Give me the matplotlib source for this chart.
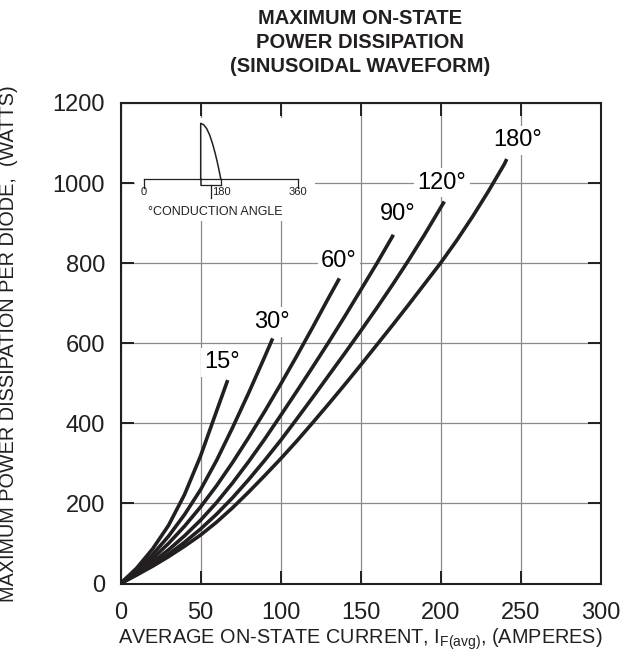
import matplotlib
matplotlib.use("Agg")
import matplotlib.pyplot as plt

plt.rcParams['font.family'] = ['Liberation Sans', 'DejaVu Sans']
plt.rcParams['mathtext.fontset'] = 'custom'
plt.rcParams['mathtext.rm'] = 'Liberation Sans'
plt.rcParams['mathtext.it'] = 'Liberation Sans'

# ---- data ----
angles = ["15°", "30°", "60°", "90°", "120°", "180°"]
i_15 = [0, 10, 20, 30, 40, 50, 60, 67]
p_15 = [0, 38, 86, 145, 222, 318, 430, 508]
i_30 = [0, 10, 20, 30, 40, 50, 60, 70, 80, 90, 95.1]
p_30 = [0, 33, 72, 118, 172, 234, 307, 389, 475, 565, 612]
i_60 = [0, 10, 20, 30, 40, 50, 60, 70, 80, 90, 100, 110, 120, 130, 136.8]
p_60 = [0, 29, 62, 100, 143, 191, 244, 302, 364, 429, 497, 567, 639, 713, 762]
i_90 = [0, 10, 20, 30, 40, 50, 60, 70, 80, 90, 100, 110, 120, 130, 140, 150,
        160, 170, 170.5]
p_90 = [0, 25, 53, 84, 119, 158, 202, 251, 304, 360, 419, 479, 540, 602, 666,
        732, 798, 867, 871]
i_120 = [0, 10, 20, 30, 40, 50, 60, 70, 80, 90, 100, 110, 120, 130, 140, 150,
         160, 170, 180, 190, 200, 202.4]
p_120 = [0, 22, 46, 73, 103, 136, 173, 214, 259, 307, 357, 410, 464, 519, 574,
         630, 687, 746, 807, 871, 938, 954]
i_180 = [0, 10, 20, 30, 40, 50, 60, 70, 80, 90, 100, 110, 120, 130, 140, 150,
         160, 170, 180, 190, 200, 210, 220, 230, 240, 241.4]
p_180 = [0, 21, 43, 67, 93, 121, 153, 189, 228, 269, 311, 355, 401, 448, 496,
         545, 595, 645, 696, 748, 800, 856, 916, 980, 1048, 1060]
label_i = [63.4, 94.8, 136.6, 173, 200.7, 248.5]
label_p = [553, 653, 805, 922, 1001, 1107]

x_ticks = [0, 50, 100, 150, 200, 250, 300]
y_ticks = [0, 200, 400, 600, 800, 1000, 1200]

# inset (conduction angle sketch), x in degrees
inset_ticks = [0, 180, 360]
wave_deg = [132.8, 132.8, 140, 147, 154, 161, 167, 172, 176, 180]
wave_h = [0, 56, 54.5, 50.5, 44, 35, 25.5, 16.5, 8.5, 0]

series = [(i_15, p_15), (i_30, p_30), (i_60, p_60), (i_90, p_90),
          (i_120, p_120), (i_180, p_180)]

W, H = 623, 663
fig = plt.figure(figsize=(W / 100, H / 100), dpi=100)
ax = fig.add_axes([120.5 / W, 1 - 583.5 / H, 480 / W, 480.5 / H])

ink = '#231f20'
for (xs, ys) in series:
    ax.plot(xs, ys, color=ink, lw=2.6, solid_capstyle='butt',
            solid_joinstyle='round', zorder=4)

for txt, xi, yi in zip(angles, label_i, label_p):
    ax.text(xi, yi, txt, fontsize=17, ha='center', va='center', zorder=3,
            bbox=dict(facecolor='white', edgecolor='none', pad=2.5))

ax.set_xlim(0, 300)
ax.set_ylim(0, 1200)
ax.set_xticks(x_ticks)
ax.set_yticks(y_ticks)
ax.grid(True, color='#8a8a8a', lw=0.9, zorder=1)
ax.set_axisbelow(True)
ax.tick_params(direction='in', length=9.5, width=1.4, labelsize=17,
               top=True, right=True, color=ink, labelcolor=ink)
ax.tick_params(axis='x', pad=13)
ax.tick_params(axis='y', pad=11)
for s in ax.spines.values():
    s.set_linewidth(1.5)
    s.set_color(ink)

ax.set_xlabel(r"AVERAGE ON-STATE CURRENT, I$_{\mathregular{F(avg)}}$, (AMPERES)",
              fontsize=14.3, color=ink)
ax.xaxis.set_label_coords(0.5, (583.5 - 627) / 480.5 + 0.0)
ax.xaxis.label.set_va('top')
ax.set_ylabel("MAXIMUM POWER DISSIPATION PER DIODE,  (WATTS)",
              fontsize=14.3, color=ink)
ax.yaxis.set_label_coords((18 - 120.5) / 480, 0.5)

# title
for t, yp in zip(["MAXIMUM ON-STATE", "POWER DISSIPATION", "(SINUSOIDAL WAVEFORM)"],
                 [19, 43, 67]):
    fig.text(360.5 / W, 1 - yp / H, t, fontsize=14.5, fontweight='bold',
             ha='center', va='center', color=ink)

# inset sketch
ins = fig.add_axes([135 / W, 1 - 221 / H, 180 / W, 103 / H])
ins.set_facecolor('white')
for s in ins.spines.values():
    s.set_visible(False)
ins.set_xticks([])
ins.set_yticks([])
ins.set_xlim(-21.1, 400.5)
ins.set_ylim(0, 103)
base = 41.7
lw = 0.9
ins.plot([inset_ticks[0], inset_ticks[-1]], [base, base], color=ink, lw=lw)
for d in (inset_ticks[0], inset_ticks[-1]):
    ins.plot([d, d], [base, base - 9], color=ink, lw=lw)
ins.plot(wave_deg, [base + h for h in wave_h], color=ink, lw=1.1)
ins.plot([wave_deg[0], wave_deg[0]], [base - 5.7, base], color=ink, lw=1.1)
ins.plot([wave_deg[-1], wave_deg[-1]], [base - 5.7, base], color=ink, lw=lw)
ins.plot([wave_deg[0], wave_deg[-1]], [base - 5.7, base - 5.7], color=ink, lw=lw)
mid = (wave_deg[0] + wave_deg[-1]) / 2
ins.plot([mid, mid], [base - 5.7, base - 19], color=ink, lw=lw)
for d in inset_ticks:
    ins.text(d + (2 if d == 180 else 0), 29, str(d), fontsize=8, ha='center',
             va='center', color=ink)
ins.text(166.3, 9, "°CONDUCTION ANGLE", fontsize=9, ha='center', va='center',
         color=ink)

fig.savefig("out.png", dpi=100)
